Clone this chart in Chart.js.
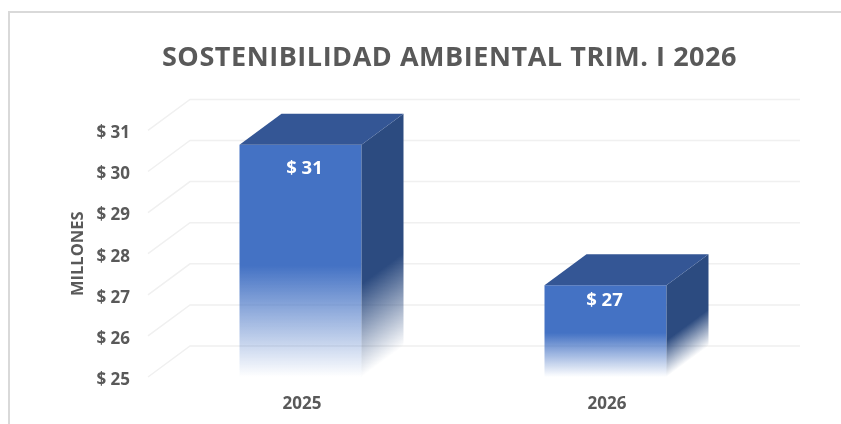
<!DOCTYPE html>
<html>
<head>
<meta charset="utf-8">
<title>Sostenibilidad ambiental</title>
<script src="https://cdn.jsdelivr.net/npm/chart.js@4"></script>
<style>
  html, body { margin: 0; padding: 0; background: #fff; }
  #wrap { position: relative; width: 841px; height: 424px; overflow: hidden; }
  #frame { position: absolute; left: 8px; top: 11px; width: 840px; height: 420px; border: 2px solid #d9d9d9; box-sizing: border-box; }
  canvas { position: absolute; left: 0; top: 0; }
</style>
</head>
<body>
<div id="wrap">
  <div id="frame"></div>
  <canvas id="chart" width="841" height="424"></canvas>
</div>
<script>
const categories = ['2025', '2026']
// bar heights read against the axis; the labels on the bars are rounded
const values = [30.65, 27.23]
const axis_min = 25
const axis_max = 31

const text_color = '#595959'
const grid_color = '#f0f0f0'
const font_name = '"Open Sans", sans-serif'

// how far the box goes back in the fake 3d
const depth_x = 42
const depth_y = 31

function fadeFront(ctx, top, bottom) {
  const g = ctx.createLinearGradient(0, top, 0, bottom)
  g.addColorStop(0, '#4472c4')
  g.addColorStop(0.52, '#4472c4')
  g.addColorStop(1, 'rgba(68,114,196,0)')
  return g
}

function polygon(ctx, points, fill) {
  ctx.beginPath()
  points.forEach((p, i) => {
    if (i == 0) ctx.moveTo(p[0], p[1])
    else ctx.lineTo(p[0], p[1])
  })
  ctx.closePath()
  ctx.fillStyle = fill
  ctx.fill()
}

const wall = {
  id: 'wall',
  beforeDatasetsDraw(chart) {
    const { ctx, chartArea, scales } = chart
    ctx.save()
    ctx.strokeStyle = grid_color
    ctx.lineWidth = 1.5
    scales.y.ticks.forEach(t => {
      const y = scales.y.getPixelForValue(t.value)
      ctx.beginPath()
      ctx.moveTo(chartArea.left, y)
      ctx.lineTo(chartArea.left + depth_x, y - depth_y)
      ctx.lineTo(chartArea.right + depth_x, y - depth_y)
      ctx.stroke()
    })
    ctx.restore()
  }
}

const box = {
  id: 'box',
  afterDatasetsDraw(chart) {
    const { ctx, scales } = chart
    chart.getDatasetMeta(0).data.forEach((bar, i) => {
      const left = bar.x - bar.width / 2
      const right = bar.x + bar.width / 2
      const top = bar.y
      const bottom = scales.y.bottom
      const h = bottom - top

      // side, the fade runs along the depth so it comes out slanted
      const start = top + h * 0.6
      const len = (bottom - start) * depth_x / Math.hypot(depth_x, depth_y)
      const nx = depth_y / Math.hypot(depth_x, depth_y)
      const ny = depth_x / Math.hypot(depth_x, depth_y)
      const g = ctx.createLinearGradient(right, start, right + nx * len, start + ny * len)
      g.addColorStop(0, '#2c4b80')
      g.addColorStop(1, 'rgba(44,75,128,0)')
      polygon(ctx, [[right, top], [right + depth_x, top - depth_y], [right + depth_x, bottom - depth_y], [right, bottom]], g)

      // top
      polygon(ctx, [[left, top], [left + depth_x, top - depth_y], [right + depth_x, top - depth_y], [right, top]], '#345695')

      // value, the labels are not quite in the same spot on both bars
      ctx.save()
      ctx.fillStyle = '#ffffff'
      ctx.font = 'bold 18.5px ' + font_name
      ctx.textAlign = 'center'
      ctx.textBaseline = 'middle'
      const nudge = i == 0 ? 4 : -1
      ctx.fillText('$ ' + Math.round(values[i]), bar.x + nudge, top + 10 + h * 0.06)
      ctx.restore()
    })
  }
}

const moveTitle = {
  id: 'moveTitle',
  afterLayout(chart) {
    // title is centred over the whole block with the depth, not over the plot
    const t = chart.titleBlock
    t.left = 58
    t.right = 841
    if (t.spaced) return
    t.spaced = true
    t.draw = function () {
      chart.ctx.letterSpacing = '0.55px'
      Object.getPrototypeOf(t).draw.call(t)
      chart.ctx.letterSpacing = '0px'
    }
  }
}

new Chart(document.getElementById('chart'), {
  type: 'bar',
  data: {
    labels: categories,
    datasets: [{
      data: values,
      barPercentage: 0.4,
      categoryPercentage: 1,
      backgroundColor(c) {
        const y = c.chart.scales.y
        const top = y ? y.getPixelForValue(values[c.dataIndex]) : NaN
        if (!Number.isFinite(top) || !Number.isFinite(y.bottom)) return '#4472c4'
        return fadeFront(c.chart.ctx, top, y.bottom)
      }
    }]
  },
  options: {
    responsive: false,
    animation: false,
    layout: { padding: { left: 0, right: 83, top: 0, bottom: 0 } },
    plugins: {
      legend: { display: false },
      tooltip: { enabled: false },
      title: {
        display: true,
        text: 'SOSTENIBILIDAD AMBIENTAL TRIM. I 2026',
        color: text_color,
        font: { family: font_name, size: 27, weight: 'bold', lineHeight: 1.2 },
        padding: { top: 42, bottom: 56 }
      }
    },
    scales: {
      x: {
        afterFit(s) { s.height = 47 },
        grid: { display: false, drawTicks: false },
        border: { display: false },
        ticks: { color: text_color, padding: 17, labelOffset: 1.5, font: { family: font_name, size: 17, weight: 'bold' } }
      },
      y: {
        min: axis_min,
        max: axis_max,
        afterFit(s) { s.width = 148 },
        grid: { display: false, drawTicks: false },
        border: { display: false },
        title: {
          display: true,
          text: 'MILLONES',
          color: text_color,
          padding: { top: 68, bottom: 0 },
          font: { family: font_name, size: 16.5, weight: 'bold' }
        },
        ticks: {
          stepSize: 1,
          color: text_color,
          padding: 18,
          labelOffset: 3,
          font: { family: font_name, size: 17, weight: 'bold' },
          callback: v => '$ ' + v
        }
      }
    }
  },
  plugins: [wall, box, moveTitle]
})
</script>
</body>
</html>
